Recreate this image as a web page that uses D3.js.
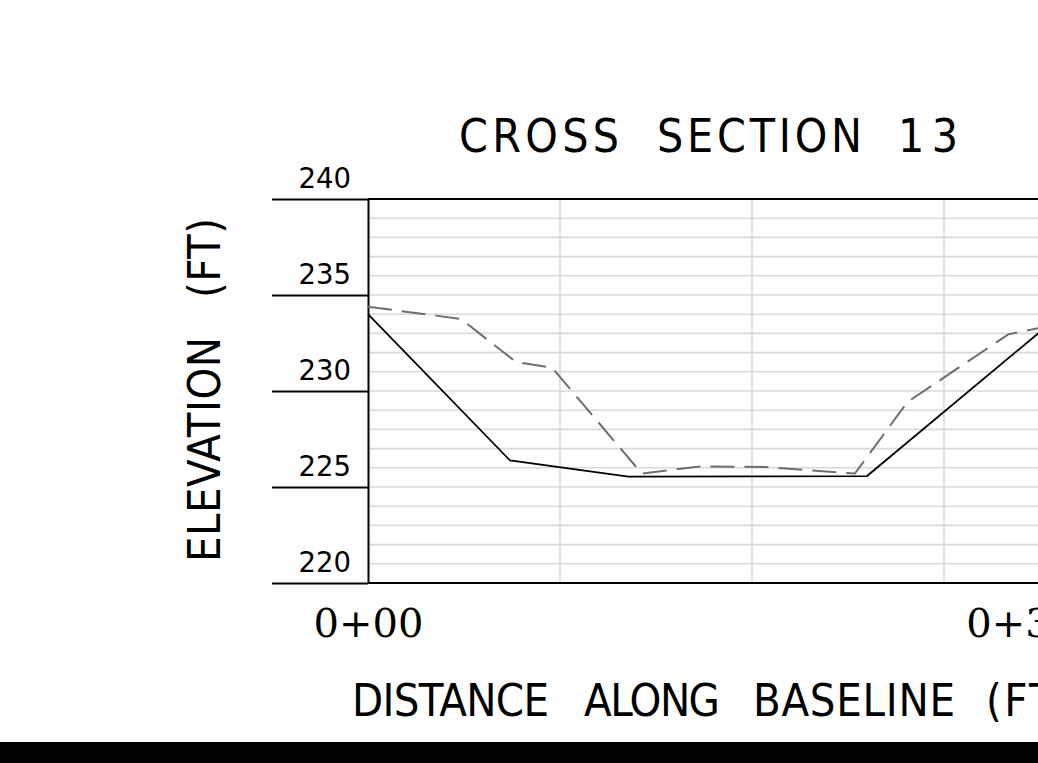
<!DOCTYPE html>
<html>
<head>
<meta charset="utf-8">
<script src="https://cdn.jsdelivr.net/npm/d3@7"></script>
<style>
  html, body { margin: 0; padding: 0; background: #fff; overflow: hidden; }
  svg { display: block; }
</style>
</head>
<body>
<svg id="chart" width="1038" height="763"></svg>
<script>
// ---- data ----
const titleWords = ["CROSS", "SECTION", "13"];
const xLabelWords = ["DISTANCE", "ALONG", "BASELINE", "(FT)"];
const yLabelWords = ["ELEVATION", "(FT)"];

const yTickValues = [220, 225, 230, 235, 240];
const yMinorValues = [221,222,223,224,226,227,228,229,231,232,233,234,236,237,238,239];
const xGridValues = [10, 20, 30];
const xTickValues = [0, 34];

// solid line (design section): distance (ft), elevation (ft)
const solidDist = [0, 7.40, 13.56, 25.99, 34.90, 36.0];
const solidElev = [234.0, 226.38, 225.54, 225.57, 233.0, 233.92];

// dashed line (existing ground)
const dashDist = [0, 4.84, 7.71, 9.58, 14.26, 17.29, 20.68, 25.36, 28.1, 33.35, 34.91, 36.0];
const dashElev = [234.39, 233.75, 231.51, 231.22, 225.70, 226.07, 226.04, 225.70, 229.43, 232.95, 233.27, 233.4];

// ---- chart ----
const svg = d3.select("#chart");
const x = d3.scaleLinear().domain([0, 36]).range([368, 368 + 36 * 19.2]);
const y = d3.scaleLinear().domain([220, 240]).range([583, 199]);

const gridColor = "#d9d9d9";

// horizontal grid (every foot)
svg.append("g").selectAll("line")
  .data(yMinorValues.concat([225, 230, 235]))
  .join("line")
  .attr("x1", x(0)).attr("x2", x(36))
  .attr("y1", d => y(d)).attr("y2", d => y(d))
  .attr("stroke", gridColor).attr("stroke-width", 1.6);

// vertical grid
svg.append("g").selectAll("line")
  .data(xGridValues)
  .join("line")
  .attr("x1", d => x(d)).attr("x2", d => x(d))
  .attr("y1", y(240)).attr("y2", y(220))
  .attr("stroke", gridColor).attr("stroke-width", 1.6);

// frame lines top & bottom
svg.append("g").selectAll("line")
  .data([220, 240])
  .join("line")
  .attr("x1", x(0)).attr("x2", x(36))
  .attr("y1", d => y(d)).attr("y2", d => y(d))
  .attr("stroke", "#000").attr("stroke-width", 2);

// y axis
const yAxis = svg.append("g")
  .attr("transform", `translate(${x(0)},0)`)
  .call(d3.axisLeft(y).tickValues(yTickValues).tickSize(96).tickSizeOuter(0).tickPadding(0));
yAxis.select(".domain").attr("stroke", "#000").attr("stroke-width", 2);
yAxis.selectAll(".tick line").attr("stroke", "#000").attr("stroke-width", 2);
yAxis.selectAll(".tick text")
  .attr("x", -17).attr("dy", -12)
  .attr("text-anchor", "end")
  .attr("fill", "#000")
  .style("font-family", "'DejaVu Sans', sans-serif")
  .style("font-size", "27.5px");

// x axis labels
const xAxis = svg.append("g")
  .attr("transform", `translate(0,${y(220)})`)
  .call(d3.axisBottom(x).tickValues(xTickValues).tickSize(0).tickPadding(0)
        .tickFormat(d => "0+" + d3.format("02d")(d)));
xAxis.select(".domain").remove();
xAxis.selectAll(".tick text")
  .attr("y", 54).attr("dy", 0)
  .attr("fill", "#000")
  .style("font-family", "'DejaVu Serif', serif")
  .style("font-size", "40px");

// lines
const line = d3.line().x(d => x(d[0])).y(d => y(d[1]));
svg.append("path")
  .datum(dashDist.map((d, i) => [d, dashElev[i]]))
  .attr("d", line)
  .attr("fill", "none")
  .attr("stroke", "#6e6e6e")
  .attr("stroke-width", 2)
  .attr("stroke-dasharray", "24,10");
svg.append("path")
  .datum(solidDist.map((d, i) => [d, solidElev[i]]))
  .attr("d", line)
  .attr("fill", "none")
  .attr("stroke", "#000")
  .attr("stroke-width", 1.8);

// word-positioned labels (start position and width of each word)
const labelFont = "'DejaVu Sans Condensed', 'DejaVu Sans', sans-serif";
function wordText(parent, words, starts, widths, baseline, size, transform) {
  const t = parent.append("text")
    .style("font-family", labelFont)
    .style("font-stretch", "condensed")
    .style("font-size", size + "px")
    .attr("fill", "#000");
  if (transform) t.attr("transform", transform);
  t.selectAll("tspan")
    .data(words)
    .join("tspan")
    .attr("x", (d, i) => starts[i])
    .attr("y", baseline)
    .attr("textLength", (d, i) => widths[i])
    .attr("lengthAdjust", "spacing")
    .text(d => d);
  return t;
}

wordText(svg, titleWords, [459, 657, 898], [160, 205, 60], 152, 46);
wordText(svg, xLabelWords, [352, 584, 753, 986], [197, 136, 202, 86], 716, 45);
wordText(svg, yLabelWords, [0, 264], [225, 80], 0, 45, "translate(220,562) rotate(-90)");

// bottom bar
svg.append("rect")
  .attr("x", 0).attr("y", 742).attr("width", 1038).attr("height", 21)
  .attr("fill", "#000");
</script>
</body>
</html>
